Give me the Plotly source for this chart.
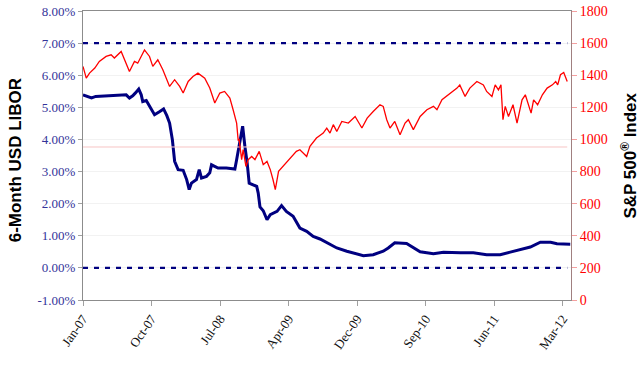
import plotly.graph_objects as go
from datetime import date, timedelta

# ---------------- data ----------------
libor_dates = [
    "2007-01-03", "2007-02-06", "2007-02-23", "2007-04-18", "2007-06-24", "2007-07-07",
    "2007-07-20", "2007-07-31", "2007-08-13", "2007-08-23", "2007-08-29", "2007-09-12",
    "2007-10-02", "2007-10-15", "2007-11-05", "2007-11-20", "2007-12-03", "2007-12-14",
    "2007-12-25", "2007-12-31", "2008-01-03", "2008-01-17", "2008-02-06", "2008-02-20",
    "2008-03-01", "2008-03-10", "2008-03-30", "2008-04-10", "2008-04-19", "2008-05-09",
    "2008-05-22", "2008-05-29", "2008-06-24", "2008-07-27", "2008-08-30", "2008-09-06",
    "2008-09-20", "2008-09-30", "2008-10-09", "2008-10-18", "2008-10-26", "2008-11-09",
    "2008-11-25", "2008-12-01", "2008-12-08", "2008-12-21", "2009-01-05", "2009-01-18",
    "2009-02-14", "2009-03-04", "2009-03-23", "2009-04-19", "2009-05-16", "2009-06-12",
    "2009-07-08", "2009-08-04", "2009-08-31", "2009-10-10", "2009-11-19", "2009-12-29",
    "2010-01-24", "2010-03-04", "2010-04-13", "2010-05-03", "2010-05-29", "2010-07-15",
    "2010-08-11", "2010-09-07", "2010-10-30", "2010-12-09", "2011-02-15", "2011-04-07",
    "2011-05-30", "2011-07-23", "2011-09-01", "2011-10-11", "2011-11-20", "2011-12-30",
    "2012-02-09", "2012-03-05", "2012-04-12", "2012-04-27",
]
libor_values = [
    5.39, 5.29, 5.34, 5.37, 5.39, 5.29,
    5.36, 5.45, 5.57, 5.39, 5.18, 5.21,
    4.93, 4.77, 4.87, 4.95, 4.74, 4.51,
    3.99, 3.47, 3.32, 3.06, 3.04, 2.75,
    2.44, 2.64, 2.75, 3.06, 2.80, 2.85,
    2.96, 3.21, 3.11, 3.11, 3.08, 3.37,
    3.99, 4.41, 3.78, 3.27, 2.64, 2.59,
    2.54, 2.33, 1.90, 1.78, 1.50, 1.66,
    1.76, 1.94, 1.76, 1.61, 1.24, 1.14,
    0.98, 0.90, 0.78, 0.62, 0.52, 0.44,
    0.38, 0.41, 0.52, 0.62, 0.78, 0.76,
    0.62, 0.50, 0.44, 0.49, 0.47, 0.47,
    0.41, 0.41, 0.49, 0.57, 0.65, 0.80,
    0.80, 0.75, 0.74, 0.74,
]

spx_dates = [
    "2007-01-03", "2007-01-16", "2007-01-29", "2007-02-19", "2007-03-09", "2007-04-05",
    "2007-04-25", "2007-05-08", "2007-06-04", "2007-06-24", "2007-07-07", "2007-07-27",
    "2007-08-09", "2007-09-05", "2007-09-25", "2007-10-08", "2007-10-28", "2007-11-17",
    "2007-12-14", "2008-01-03", "2008-01-23", "2008-02-06", "2008-02-26", "2008-03-16",
    "2008-04-05", "2008-05-02", "2008-05-22", "2008-06-11", "2008-07-01", "2008-07-20",
    "2008-08-10", "2008-08-23", "2008-09-06", "2008-09-12", "2008-09-16", "2008-09-26",
    "2008-10-02", "2008-10-13", "2008-10-22", "2008-11-05", "2008-11-18", "2008-12-05",
    "2008-12-21", "2009-01-05", "2009-01-18", "2009-01-29", "2009-02-07", "2009-02-20",
    "2009-03-04", "2009-03-23", "2009-04-12", "2009-05-02", "2009-05-16", "2009-05-29",
    "2009-06-12", "2009-06-25", "2009-07-21", "2009-08-17", "2009-08-31", "2009-09-13",
    "2009-09-26", "2009-10-10", "2009-10-30", "2009-11-25", "2009-12-22", "2010-01-18",
    "2010-02-08", "2010-03-04", "2010-03-31", "2010-04-13", "2010-04-27", "2010-05-10",
    "2010-05-29", "2010-06-19", "2010-07-09", "2010-07-22", "2010-08-11", "2010-09-07",
    "2010-10-04", "2010-10-30", "2010-11-13", "2010-12-03", "2010-12-29", "2011-02-01",
    "2011-02-12", "2011-03-05", "2011-03-24", "2011-04-21", "2011-05-17", "2011-05-30",
    "2011-06-20", "2011-07-03", "2011-07-16", "2011-07-26", "2011-08-03", "2011-08-12",
    "2011-08-25", "2011-09-12", "2011-09-28", "2011-10-18", "2011-10-31", "2011-11-23",
    "2011-12-03", "2011-12-19", "2012-01-07", "2012-01-26", "2012-02-16", "2012-02-29",
    "2012-03-08", "2012-03-19", "2012-04-01", "2012-04-15",
]
spx_values = [
    1455, 1382, 1413, 1445, 1486, 1517,
    1527, 1507, 1548, 1465, 1423, 1486,
    1475, 1558, 1517, 1455, 1496, 1434,
    1330, 1372, 1330, 1289, 1361, 1392,
    1413, 1382, 1320, 1227, 1289, 1299,
    1258, 1185, 1102, 998, 1000, 874,
    936, 832, 874, 894, 874, 926,
    843, 863, 812, 749, 687, 801,
    822, 853, 894, 926, 936, 916,
    894, 957, 1009, 1040, 1071, 1040,
    1092, 1050, 1112, 1102, 1143, 1071,
    1133, 1174, 1216, 1206, 1123, 1071,
    1112, 1029, 1102, 1123, 1061, 1143,
    1185, 1206, 1185, 1247, 1278, 1320,
    1340, 1268, 1320, 1361, 1340, 1299,
    1268, 1340, 1309, 1340, 1123, 1206,
    1143, 1216, 1102, 1247, 1278, 1164,
    1247, 1216, 1278, 1320, 1340, 1361,
    1340, 1403, 1417, 1361,
]

pink_level = 953            # S&P reference level (thin pink line)
libor_ref_levels = [7.0, 0.0]  # dashed navy reference lines (%)

tick_dates = ["2007-01-03", "2007-10-03", "2008-07-02", "2009-04-01",
              "2009-12-30", "2010-09-29", "2011-06-29", "2012-03-28"]
tick_labels = ["Jan-07", "Oct-07", "Jul-08", "Apr-09",
               "Dec-09", "Sep-10", "Jun-11", "Mar-12"]

left_ticks = [-1, 0, 1, 2, 3, 4, 5, 6, 7, 8]
right_ticks = [0, 200, 400, 600, 800, 1000, 1200, 1400, 1600, 1800]

x_start = date(2007, 1, 3)
x_end = x_start + timedelta(days=1944)

# ---------------- figure ----------------
fig = go.Figure()

fig.add_trace(go.Scatter(
    x=[spx_dates[0], spx_dates[-1]], y=[pink_level, pink_level],
    yaxis="y2", mode="lines", line=dict(color="#f7c4c4", width=1),
    hoverinfo="skip", showlegend=False))

for lvl in libor_ref_levels:
    fig.add_trace(go.Scatter(
        x=[spx_dates[0], spx_dates[-1]], y=[lvl, lvl],
        mode="lines", line=dict(color="#000080", width=2.2, dash="5px,6px"),
        hoverinfo="skip", showlegend=False))

fig.add_trace(go.Scatter(
    x=spx_dates, y=spx_values, yaxis="y2", mode="lines",
    line=dict(color="#ff0000", width=1.3), name="S&P 500", showlegend=False))

fig.add_trace(go.Scatter(
    x=libor_dates, y=libor_values, mode="lines",
    line=dict(color="#000080", width=3), name="6M LIBOR", showlegend=False))

serif = "Liberation Serif, Times New Roman, serif"

fig.update_layout(
    width=640, height=367,
    margin=dict(l=83, r=69, t=11, b=67, autoexpand=False),
    paper_bgcolor="white", plot_bgcolor="white",
    showlegend=False,
    xaxis=dict(
        type="date", range=[x_start.isoformat(), x_end.isoformat()],
        tickvals=tick_dates, ticktext=tick_labels, tickangle=-55,
        tickfont=dict(family=serif, size=13, color="#111111"),
        ticks="outside", ticklen=5, tickcolor="#a0a0a0",
        showline=True, linecolor="#8c8c8c", linewidth=1, mirror=True,
        showgrid=False, zeroline=False, automargin=False,
    ),
    yaxis=dict(
        range=[-1, 8], tickvals=left_ticks,
        ticktext=[f"{v:.2f}%" for v in left_ticks],
        tickfont=dict(family=serif, size=13, color="#333399"),
        ticks="outside", ticklen=4, tickcolor="#a0a0a0",
        showline=True, linecolor="#8c8c8c", linewidth=1,
        showgrid=True, gridcolor="#f2f2f2", gridwidth=1, zeroline=False,
        automargin=False,
    ),
    yaxis2=dict(
        range=[0, 1800], tickvals=right_ticks, overlaying="y", side="right",
        tickfont=dict(family=serif, size=14, color="#ff0000"),
        ticks="outside", ticklen=5, tickcolor="#f4a0a0",
        showline=True, linecolor="#a08080", linewidth=1,
        showgrid=False, zeroline=False, automargin=False,
    ),
    annotations=[
        dict(text="<b>6-Month USD LIBOR</b>", xref="paper", yref="paper",
             x=-0.139, y=0.484, xanchor="center", yanchor="middle",
             textangle=-90, showarrow=False,
             font=dict(family="Liberation Sans, Arial, sans-serif", size=17, color="black")),
        dict(text="<b>S&P 500<sup>®</sup> Index</b>", xref="paper", yref="paper",
             x=1.117, y=0.50, xanchor="center", yanchor="middle",
             textangle=-90, showarrow=False,
             font=dict(family="Liberation Sans, Arial, sans-serif", size=17, color="black")),
    ],
)

fig.write_html("out.html",
               config={"displayModeBar": False, "staticPlot": True},
               post_script="document.body.style.margin='0px';document.body.style.overflow='hidden';")
